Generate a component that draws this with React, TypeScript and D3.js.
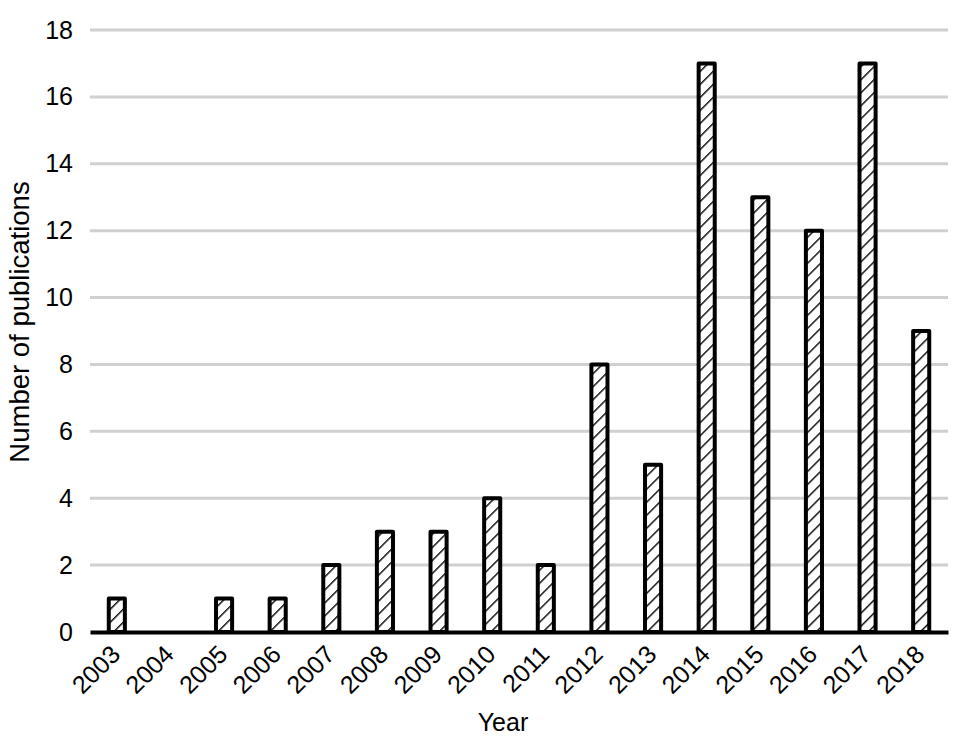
import React, { useEffect, useRef } from "react";
import * as d3 from "d3";

const years = ["2003", "2004", "2005", "2006", "2007", "2008", "2009", "2010", "2011", "2012", "2013", "2014", "2015", "2016", "2017", "2018"];
const publications = [1, 0, 1, 1, 2, 3, 3, 4, 2, 8, 5, 17, 13, 12, 17, 9];
const yTicks = [0, 2, 4, 6, 8, 10, 12, 14, 16, 18];

const W = 957;
const H = 743;
const margin = { left: 90, right: 9, top: 30, bottom: 111 };
const FONT = "'Liberation Sans', Arial, sans-serif";

export default function App() {
    const ref = useRef<SVGSVGElement>(null);

    useEffect(() => {
        const svg = d3.select(ref.current);
        svg.selectAll("*").remove();

        const w = W - margin.left - margin.right;
        const h = H - margin.top - margin.bottom;

        const x = d3.scaleBand().domain(years).range([0, w]).paddingInner(0.7).paddingOuter(0.35);
        const y = d3.scaleLinear().domain([0, 18]).range([h, 0]);

        // hatch fill for the bars
        const step = 9.2;
        const pattern = svg.append("defs").append("pattern")
            .attr("id", "hatch")
            .attr("patternUnits", "userSpaceOnUse")
            .attr("width", step)
            .attr("height", step)
            .attr("patternTransform", "rotate(45)");
        pattern.append("rect").attr("width", step).attr("height", step).attr("fill", "#fff");
        pattern.append("line")
            .attr("x1", 0).attr("y1", 0).attr("x2", 0).attr("y2", step)
            .attr("stroke", "#000").attr("stroke-width", 2.8);

        const g = svg.append("g").attr("transform", `translate(${margin.left},${margin.top})`);

        // gridlines
        g.selectAll(".grid")
            .data(yTicks.filter(t => t > 0))
            .enter()
            .append("line")
            .attr("x1", 0)
            .attr("x2", w)
            .attr("y1", d => y(d))
            .attr("y2", d => y(d))
            .attr("stroke", "#d0d0d0")
            .attr("stroke-width", 3);

        // y tick labels
        const yAxis = g.append("g").call(d3.axisLeft(y).tickValues(yTicks).tickSize(0).tickPadding(17));
        yAxis.select(".domain").remove();
        yAxis.selectAll("text").attr("font-family", FONT).attr("font-size", 25).attr("fill", "#000");

        // bars
        const rows = years.map((yr, i) => ({ year: yr, value: publications[i] })).filter(d => d.value > 0);
        g.selectAll(".bar")
            .data(rows)
            .enter()
            .append("rect")
            .attr("x", d => x(d.year)!)
            .attr("y", d => y(d.value))
            .attr("width", x.bandwidth())
            .attr("height", d => h - y(d.value))
            .attr("fill", "url(#hatch)")
            .attr("stroke", "#000")
            .attr("stroke-width", 4)
            .attr("stroke-linejoin", "round");

        // x axis
        const xAxis = g.append("g")
            .attr("transform", `translate(0,${h})`)
            .call(d3.axisBottom(x).tickSize(0).tickPadding(0));
        xAxis.select(".domain").attr("stroke", "#000").attr("stroke-width", 4);
        xAxis.selectAll("text")
            .attr("font-family", FONT)
            .attr("font-size", 25)
            .attr("fill", "#000")
            .attr("text-anchor", "end")
            .attr("y", 0)
            .attr("dy", "0")
            .attr("transform", "translate(5,24) rotate(-45)");

        // axis titles
        svg.append("text")
            .attr("x", 503)
            .attr("y", 731)
            .attr("text-anchor", "middle")
            .attr("font-family", FONT)
            .attr("font-size", 25)
            .text("Year");

        svg.append("text")
            .attr("transform", `translate(29,322) rotate(-90)`)
            .attr("text-anchor", "middle")
            .attr("font-family", FONT)
            .attr("font-size", 27.5)
            .text("Number of publications");
    }, []);

    return (
        <svg ref={ref} width={W} height={H} style={{ position: "absolute", left: 0, top: 0, background: "#fff" }}></svg>
    );
}
